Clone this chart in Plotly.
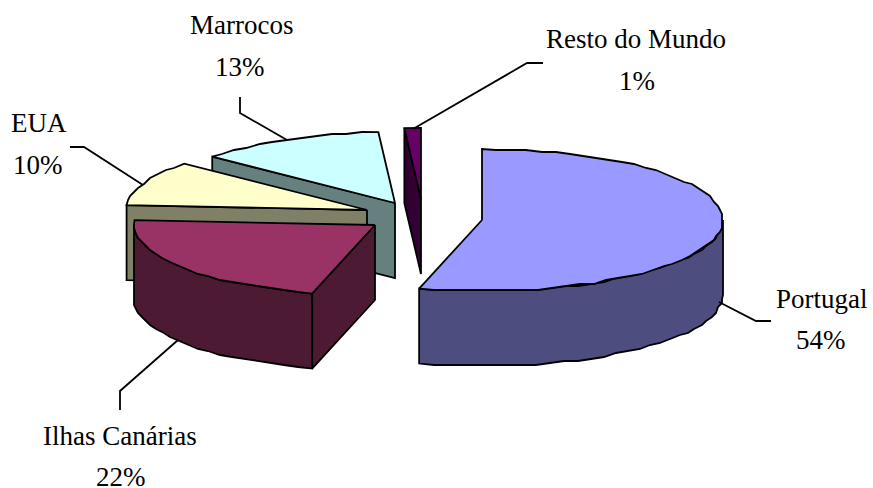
import math
import plotly.graph_objects as go

categories = ["Portugal", "Ilhas Canárias", "EUA", "Marrocos", "Resto do Mundo"]
values = [54.2, 21.9, 10.2, 12.6, 1.1]
top_colors = ["#9999FF", "#993366", "#FFFFCC", "#CCFFFF", "#660066"]
wall_colors = ["#4D4D80", "#4D1A33", "#808066", "#668080", "#330033"]

# layout of the exploded 3-D pie, in page pixels
centers = [(482, 220), (375, 225), (367, 210), (395, 203), (421, 199)]
RX, RY, DEPTH = 241, 71, 75
draw_order = [3, 4, 2, 1, 0]

label_pos = [(822, 307), (120, 444), (39, 131), (241, 33), (636, 47)]
pct_pos = [(821, 348), (121, 485), (38, 173), (240, 75), (637, 89)]
leaders = [
    [(771, 321), (756, 321), (719, 302)],
    [(120, 410), (120, 391), (178, 340)],
    [(70, 147), (84, 147), (143, 185)],
    [(240, 97), (240, 113), (287, 140)],
    [(543, 63), (527, 63), (413, 129)],
]
FONT = 27
LINE = 1.8
GRID = 2


def rim(c, deg):
    a = math.radians(deg)
    return (c[0] + RX * math.sin(a), c[1] - RY * math.cos(a))


def snap(p):
    return (GRID * round(p[0] / GRID), GRID * round(p[1] / GRID))


def arc(c, d0, d1, step=3.5):
    n = max(1, int(abs(d1 - d0) / step))
    pts = [rim(c, d0 + (d1 - d0) * i / n) for i in range(n + 1)]
    return [pts[0]] + [snap(p) for p in pts[1:-1]] + [pts[-1]]


def polygon(fig, pts, color):
    fig.add_trace(go.Scatter(
        x=[p[0] for p in pts] + [pts[0][0]],
        y=[p[1] for p in pts] + [pts[0][1]],
        mode="lines", fill="toself", fillcolor=color,
        line=dict(color="black", width=LINE), hoverinfo="skip", showlegend=False))


def down(p):
    return (p[0], p[1] + DEPTH)


fig = go.Figure()
total = sum(values)
edges = [0.0]
for v in values:
    edges.append(edges[-1] + 360.0 * v / total)

for i in draw_order:
    s, e = edges[i], edges[i + 1]
    c = centers[i]
    top, wall = top_colors[i], wall_colors[i]
    if math.sin(math.radians(s)) < 0:
        p = rim(c, s)
        polygon(fig, [c, p, down(p), down(c)], wall)
    if math.sin(math.radians(e)) > 0:
        p = rim(c, e)
        polygon(fig, [c, p, down(p), down(c)], wall)
    lo, hi = max(s, 90.0), min(e, 270.0)
    if lo < hi:
        a = arc(c, lo, hi)
        polygon(fig, a + [down(p) for p in reversed(a)], wall)
    polygon(fig, [c] + arc(c, s, e), top)

for pts in leaders:
    fig.add_trace(go.Scatter(
        x=[p[0] for p in pts], y=[p[1] for p in pts], mode="lines",
        line=dict(color="black", width=LINE), hoverinfo="skip", showlegend=False))

font = dict(family="Liberation Serif", size=FONT, color="black")
for name, v, lp, pp in zip(categories, values, label_pos, pct_pos):
    fig.add_annotation(x=lp[0], y=lp[1] - 0.31 * FONT, text=name, showarrow=False,
                       xanchor="center", yanchor="middle", font=font)
    fig.add_annotation(x=pp[0], y=pp[1] - 0.31 * FONT, text=f"{round(v)}%", showarrow=False,
                       xanchor="center", yanchor="middle", font=font)

fig.update_layout(
    width=873, height=488, margin=dict(l=0, r=0, t=0, b=0),
    paper_bgcolor="white", plot_bgcolor="white",
    xaxis=dict(range=[0, 873], visible=False, fixedrange=True),
    yaxis=dict(range=[488, 0], visible=False, fixedrange=True),
)
fig.write_html("out.html", config=dict(displayModeBar=False),
               post_script="document.body.style.margin='0';document.documentElement.style.overflow='hidden';")
